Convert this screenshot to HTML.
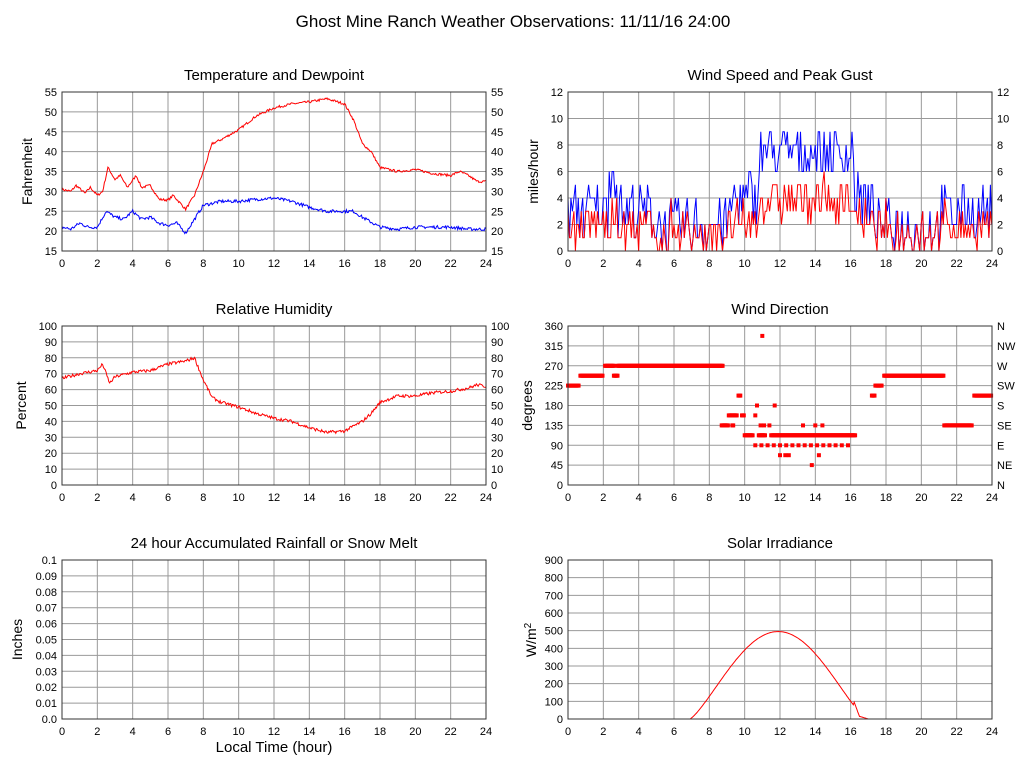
<!DOCTYPE html>
<html><head><meta charset="utf-8"><style>
body{margin:0;background:#fff;}
svg{display:block;font-family:"Liberation Sans",sans-serif;}
</style></head><body>
<svg id="s" width="1027" height="772" xmlns="http://www.w3.org/2000/svg">
<rect width="1027" height="772" fill="#fff"/>
<text x="513" y="27" font-size="17" text-anchor="middle">Ghost Mine Ranch Weather Observations: 11/11/16 24:00</text>
</svg>
<script>
var s=document.getElementById('s'),out='';
var seed=7;function rnd(){seed=(seed*16807)%2147483647;return seed/2147483647;}
function interp(k,h){for(var i=0;i<k.length-1;i++){if(h<=k[i+1][0]){var a=k[i],b=k[i+1];return a[1]+(b[1]-a[1])*(h-a[0])/(b[0]-a[0]);}}return k[k.length-1][1];}
function panel(o){
 var x0=o.x,y0=o.y,w=424,h=159,g='';
 g+='<text x="'+(x0+w/2)+'" y="'+(y0-12)+'" font-size="15" text-anchor="middle">'+o.title+'</text>';
 for(var i=1;i<12;i++){var X=x0+w*i/12;g+='<line x1="'+X+'" y1="'+y0+'" x2="'+X+'" y2="'+(y0+h)+'" stroke="#999"/>';}
 var n=o.yt.length-1;
 for(var i=0;i<=n;i++){var Y=y0+h-h*i/n;
  if(i>0&&i<n)g+='<line x1="'+x0+'" y1="'+Y+'" x2="'+(x0+w)+'" y2="'+Y+'" stroke="#999"/>';
  g+='<text x="'+(x0-5)+'" y="'+(Y+4)+'" font-size="11" text-anchor="end">'+o.yt[i]+'</text>';
  if(o.yr)g+='<text x="'+(x0+w+5)+'" y="'+(Y+4)+'" font-size="11">'+o.yr[i]+'</text>';}
 for(var i=0;i<=12;i++){g+='<text x="'+(x0+w*i/12)+'" y="'+(y0+h+16)+'" font-size="11" text-anchor="middle">'+(i*2)+'</text>';}
 g+='<text transform="translate('+(x0-o.lo)+','+(y0+h/2)+') rotate(-90)" font-size="14" text-anchor="middle">'+o.ylab+'</text>';
 var ymin=o.ymin,ymax=o.ymax;
 function P(t,v){return (x0+w*t/24).toFixed(1)+','+(y0+h-h*(v-ymin)/(ymax-ymin)).toFixed(1);}
 (o.series||[]).forEach(function(sr){var pts=sr.d.map(function(p){return P(p[0],p[1]);}).join(' ');
  g+='<polyline points="'+pts+'" fill="none" stroke="'+sr.c+'" stroke-width="1"/>';});
 (o.dots||[]).forEach(function(p){var q=P(p[0],p[1]).split(',');g+='<rect x="'+(q[0]-2)+'" y="'+(q[1]-2)+'" width="4" height="4" fill="#f00"/>';});
 g+='<rect x="'+x0+'" y="'+y0+'" width="'+w+'" height="'+h+'" fill="none" stroke="#333"/>';
 out+=g;}
function gen(k,noise,step){var d=[];for(var t=0;t<=24.001;t+=step){d.push([t,interp(k,t)+(rnd()-.5)*noise]);}return d;}
var T=[[0,30.5],[.5,30],[.8,31.5],[1.3,29.5],[1.6,31],[2,29],[2.3,30],[2.6,36],[3,33],[3.3,34],[3.7,31],[4.2,34],[4.5,31],[5,31.5],[5.5,28],[6,27.8],[6.3,29],[7,25.5],[7.5,29],[8,35],[8.5,42],[9,43],[10,45.5],[11,49],[12,51],[13,52],[14,52.5],[15,53.3],[16,52],[16.5,48],[17,42],[17.5,40],[18,36],[19,35],[20,35.5],[21,34.5],[22,34],[22.5,35],[23,34],[23.5,32.5],[24,32.5]];
var D=[[0,21],[.5,20.5],[1,22],[1.5,21],[2,21],[2.5,25],[3,23.5],[3.5,23],[4,25],[4.5,23],[5,23.5],[5.5,22],[6,21.5],[6.5,22],[7,19.5],[7.5,23],[8,26.5],[9,27.5],[10,27.5],[11,28],[12,28.3],[13,27.5],[14,26],[15,25],[16,25],[16.5,25],[17,23.5],[18,21],[19,20.5],[20,21],[21,21],[22,21],[23,20.5],[24,20.5]];
var yt1=[15,20,25,30,35,40,45,50,55];
panel({x:62,y:92,title:'Temperature and Dewpoint',yt:yt1,yr:yt1,ylab:'Fahrenheit',lo:30,ymin:15,ymax:55,
 series:[{c:'#f00',d:gen(T,0.6,0.05)},{c:'#00f',d:gen(D,0.8,0.05)}]});
var sp=[],gu=[];
for(var t=0;t<=24.001;t+=0.0833){
 var base=(t>10.8&&t<16.2)?7.5:(t>9.3&&t<10.8)?4:(t>16.2&&t<17)?4:(t>4.8&&t<9)?2:(t>17.5&&t<21)?1.8:3;
 if(t>2.3&&t<2.8)base=6;
 var a=Math.max(0,Math.min(11,Math.round(base+(rnd()-.5)*4)));
 var gb=(t>10.8&&t<16.5)?3.8:2;
 var b=Math.max(0,Math.min(a,Math.round(gb+(rnd()-.5)*3.5)));
 sp.push([t,a]);gu.push([t,b]);}
var yt2=[0,2,4,6,8,10,12];
panel({x:568,y:92,title:'Wind Speed and Peak Gust',yt:yt2,yr:yt2,ylab:'miles/hour',lo:30,ymin:0,ymax:12,
 series:[{c:'#00f',d:sp},{c:'#f00',d:gu}]});
var RH=[[0,67],[1,70],[2,72],[2.3,76],[2.7,64],[3,68],[4,71],[5,72],[5.5,74],[6,76],[7,78],[7.5,80],[8,66],[8.5,55],[9,52],[10,49],[11,45],[12,42],[13,40],[14,36],[15,33],[16,34],[17,40],[17.5,45],[18,52],[19,56],[20,56],[21,58],[22,59],[23,61],[23.5,63],[24,62]];
var yt3=[0,10,20,30,40,50,60,70,80,90,100];
panel({x:62,y:326,title:'Relative Humidity',yt:yt3,yr:yt3,ylab:'Percent',lo:36,ymin:0,ymax:100,series:[{c:'#f00',d:gen(RH,2,0.05)}]});
var dots=[];function seg(a,b,v){for(var t=a;t<=b;t+=0.05)dots.push([t,v]);}
seg(0,0.6,225);seg(0.7,2,247.5);seg(2.1,2.6,270);seg(2.6,2.8,247.5);seg(2.8,8.75,270);
seg(8.7,9.1,135);seg(9.1,9.6,157.5);seg(9.85,10,157.5);seg(9.65,9.8,202.5);seg(9.3,9.4,135);
seg(10,10.5,112.5);seg(10.8,11.2,112.5);seg(11.5,16.3,112.5);
for(var t=10.6;t<16;t+=0.35)dots.push([t,90]);
dots.push([11,337.5],[10.6,157.5],[10.7,180],[11.7,180],[11.1,135],[11.4,135],[13.3,135],[14,135],[14.4,135],[12,67.5],[12.3,67.5],[12.5,67.5],[13.8,45],[14.2,67.5],[10.9,135]);
seg(17.2,17.4,202.5);seg(17.4,17.8,225);seg(17.9,21.3,247.5);seg(21.3,22.9,135);seg(23,24,202.5);
panel({x:568,y:326,title:'Wind Direction',yt:[0,45,90,135,180,225,270,315,360],yr:['N','NE','E','SE','S','SW','W','NW','N'],ylab:'degrees',lo:36,ymin:0,ymax:360,dots:dots});
panel({x:62,y:560,title:'24 hour Accumulated Rainfall or Snow Melt',yt:['0.0','0.01','0.02','0.03','0.04','0.05','0.06','0.07','0.08','0.09','0.1'],ylab:'Inches',lo:40,ymin:0,ymax:0.1,series:[{c:'#f00',d:[[0,0],[24,0]]}]});
var sol=[];for(var t=0;t<=24.001;t+=0.05){var v=0;
 if(t>6.9&&t<=16.2)v=495*Math.pow(Math.sin(Math.PI*(t-6.9)/(16.9-6.9)),1.25);
 else if(t>16.2&&t<=16.5)v=95-(t-16.2)*270;
 else if(t>16.5&&t<17)v=15*(17-t)/0.5;
 sol.push([t,Math.max(0,v)]);}
panel({x:568,y:560,title:'Solar Irradiance',yt:[0,100,200,300,400,500,600,700,800,900],ylab:'',lo:36,ymin:0,ymax:900,series:[{c:'#f00',d:sol}]});
out+='<text transform="translate(536,640) rotate(-90)" font-size="14" text-anchor="middle">W/m<tspan dy="-5" font-size="10">2</tspan></text>';
out+='<text x="274" y="752" font-size="15" text-anchor="middle">Local Time (hour)</text>';
s.insertAdjacentHTML('beforeend',out);
</script>
</body></html>
